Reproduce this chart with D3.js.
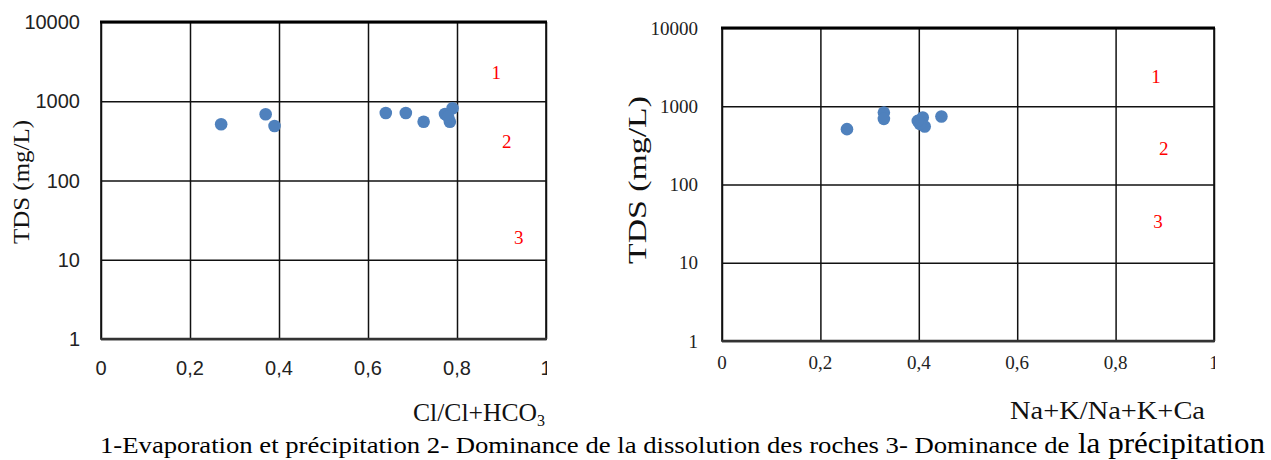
<!DOCTYPE html>
<html>
<head>
<meta charset="utf-8">
<script src="https://cdn.jsdelivr.net/npm/d3@7"></script>
<style>
  body { margin: 0; background: #fff; }
  svg { display: block; }
</style>
</head>
<body>
<svg id="chart" width="1271" height="460"></svg>
<script>
// Gibbs diagrams: TDS vs ratios
const xTicks = [0, 0.2, 0.4, 0.6, 0.8, 1];
const yTicks = [1, 10, 100, 1000, 10000];

// left panel: Cl/(Cl+HCO3)
const clRatio = [0.27, 0.37, 0.39, 0.64, 0.685, 0.725, 0.773, 0.784, 0.79, 0.78];
const clTds = [512, 684, 487, 711, 711, 552, 690, 552, 815, 640];

// right panel: (Na+K)/(Na+K+Ca)
const naRatio = [0.254, 0.329, 0.329, 0.408, 0.412, 0.402, 0.446, 0.398];
const naTds = [510, 830, 690, 717, 550, 596, 738, 650];

const zoneLabels = ['1', '2', '3'];
const zoneTdsLeft = [2340, 315, 19.4];
const zoneXLeft = [0.888, 0.912, 0.939];
const zoneTdsRight = [2380, 294, 34];
const zoneXRight = [0.882, 0.898, 0.886];

const caption = '1-Evaporation et précipitation 2- Dominance de la dissolution des roches 3- Dominance de ';
const captionEnd = 'la  précipitation';

const svg = d3.select('#chart');
const blue = '#4f81bd';
const serif = 'Liberation Serif, Times New Roman, serif';

function fmtX(d) {
  return String(d).replace('.', ',');
}

function drawPanel(cfg) {
  const x = d3.scaleLinear().domain([0, 1]).range([cfg.left, cfg.right]);
  const y = d3.scaleLog().domain([1, 10000]).range([cfg.bottom, cfg.top]);
  const w = cfg.right - cfg.left;
  const h = cfg.bottom - cfg.top;

  const g = svg.append('g');

  // grid
  g.append('g')
    .attr('transform', `translate(${cfg.left},0)`)
    .call(d3.axisLeft(y).tickValues(yTicks).tickSize(-w).tickFormat(''))
    .call(s => s.select('.domain').remove())
    .call(s => s.selectAll('line').attr('stroke', '#111').attr('stroke-width', 1.5));

  g.append('g')
    .attr('transform', `translate(0,${cfg.bottom})`)
    .call(d3.axisBottom(x).tickValues(xTicks).tickSize(-h).tickFormat(''))
    .call(s => s.select('.domain').remove())
    .call(s => s.selectAll('line').attr('stroke', '#111').attr('stroke-width', 1.5));

  // frame
  g.append('rect')
    .attr('x', cfg.left).attr('y', cfg.top)
    .attr('width', w).attr('height', h)
    .attr('fill', 'none').attr('stroke', '#111').attr('stroke-width', 1.6);
  g.append('line')
    .attr('x1', cfg.left - 1).attr('x2', cfg.right + 1)
    .attr('y1', cfg.top).attr('y2', cfg.top)
    .attr('stroke', '#000').attr('stroke-width', 3);
  g.append('line')
    .attr('x1', cfg.left).attr('x2', cfg.right + 1)
    .attr('y1', cfg.bottom).attr('y2', cfg.bottom)
    .attr('stroke', '#333').attr('stroke-width', 2.4);

  // y tick labels
  g.selectAll('.ylab')
    .data(yTicks)
    .enter().append('text')
    .attr('x', cfg.yLabelX)
    .attr('y', d => y(d))
    .attr('dy', '0.35em')
    .attr('text-anchor', 'end')
    .attr('font-family', cfg.tickFont)
    .attr('font-size', cfg.tickSize)
    .attr('fill', '#222')
    .text(d => d3.format('d')(d));

  // x tick labels, clipped at the right edge like the original
  const clipId = 'clip' + cfg.id;
  svg.append('clipPath').attr('id', clipId)
    .append('rect')
    .attr('x', 0).attr('y', 0)
    .attr('width', cfg.right + 1).attr('height', 460);

  g.append('g')
    .attr('clip-path', `url(#${clipId})`)
    .selectAll('text')
    .data(xTicks)
    .enter().append('text')
    .attr('x', d => x(d))
    .attr('y', cfg.xLabelY)
    .attr('dy', '0.35em')
    .attr('text-anchor', 'middle')
    .attr('font-family', cfg.tickFont)
    .attr('font-size', cfg.tickSize)
    .attr('fill', '#222')
    .text(d => fmtX(d));

  // points
  g.selectAll('circle')
    .data(cfg.xs)
    .enter().append('circle')
    .attr('cx', d => x(d))
    .attr('cy', (d, i) => y(cfg.ys[i]))
    .attr('r', 6.3)
    .attr('fill', blue);

  // zone numbers
  g.selectAll('.zone')
    .data(zoneLabels)
    .enter().append('text')
    .attr('x', (d, i) => x(cfg.zoneX[i]))
    .attr('y', (d, i) => y(cfg.zoneTds[i]))
    .attr('dy', '0.35em')
    .attr('text-anchor', 'middle')
    .attr('font-family', serif)
    .attr('font-size', 19)
    .attr('fill', '#ff0000')
    .text(d => d);

  // y title
  g.append('text')
    .attr('transform', `translate(${cfg.yTitleX},${cfg.yTitleY}) rotate(-90)`)
    .attr('text-anchor', 'middle')
    .attr('dy', '0.35em')
    .attr('font-family', serif)
    .attr('font-size', cfg.yTitleSize)
    .attr('textLength', cfg.yTitleLen)
    .attr('lengthAdjust', 'spacingAndGlyphs')
    .attr('fill', '#111')
    .text('TDS (mg/L)');

  return g;
}

const left = drawPanel({
  id: 'L', left: 101, right: 546, top: 22, bottom: 339,
  xs: clRatio, ys: clTds, zoneX: zoneXLeft, zoneTds: zoneTdsLeft,
  tickFont: 'Liberation Sans, Arial, sans-serif', tickSize: 20,
  yLabelX: 80, xLabelY: 368, yTitleX: 21, yTitleY: 182,
  yTitleSize: 23, yTitleLen: 124
});

const right = drawPanel({
  id: 'R', left: 722, right: 1214, top: 28, bottom: 341,
  xs: naRatio, ys: naTds, zoneX: zoneXRight, zoneTds: zoneTdsRight,
  tickFont: serif, tickSize: 19,
  yLabelX: 698, xLabelY: 362, yTitleX: 637, yTitleY: 180,
  yTitleSize: 26, yTitleLen: 168
});

// x titles
const t1 = left.append('text')
  .attr('x', 413).attr('y', 421)
  .attr('font-family', serif)
  .attr('font-size', 25)
  .attr('fill', '#111');
t1.append('tspan').attr('textLength', 124).attr('lengthAdjust', 'spacingAndGlyphs').text('Cl/Cl+HCO');
t1.append('tspan').attr('font-size', 16).attr('dy', 5).text('3');

right.append('text')
  .attr('x', 1010).attr('y', 419)
  .attr('font-family', serif)
  .attr('font-size', 25)
  .attr('textLength', 195)
  .attr('lengthAdjust', 'spacingAndGlyphs')
  .attr('fill', '#111')
  .text('Na+K/Na+K+Ca');

// caption
const cap = svg.append('text')
  .attr('x', 100).attr('y', 453)
  .attr('font-family', serif)
  .attr('font-size', 24)
  .attr('fill', '#000');
cap.append('tspan').attr('textLength', 976).attr('lengthAdjust', 'spacingAndGlyphs').text(caption);
cap.append('tspan').attr('x', 1078).attr('font-size', 29).attr('textLength', 187)
  .attr('lengthAdjust', 'spacingAndGlyphs').text(captionEnd);
</script>
</body>
</html>
